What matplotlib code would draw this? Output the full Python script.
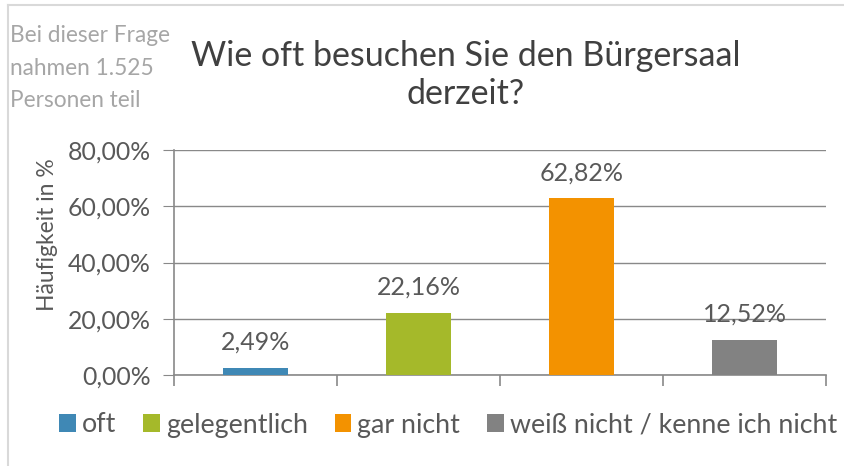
import matplotlib.pyplot as plt
from matplotlib.lines import Line2D
from matplotlib.patches import Patch
from matplotlib.ticker import FuncFormatter

plt.rcParams['font.family'] = ['Lato', 'DejaVu Sans']

categories = ["oft", "gelegentlich", "gar nicht", "weiß nicht / kenne ich nicht"]
values = [2.49, 22.16, 62.82, 12.52]
colors = ["#3F88B5", "#A5B92A", "#F39200", "#828282"]
y_ticks = [0, 20, 40, 60, 80]

W, H = 845, 466
fig = plt.figure(figsize=(W / 100, H / 100), dpi=100)

# chart-area border (only top and left are visible in the crop)
fig.add_artist(Line2D([8 / W, 8 / W], [0, 1 - 5 / H], color="#D9D9D9", lw=1.5))
fig.add_artist(Line2D([8 / W, 1], [1 - 5 / H, 1 - 5 / H], color="#D9D9D9", lw=1.5))

ax = fig.add_axes([174 / W, 91 / H, 652 / W, 225 / H])

x = list(range(len(categories)))
ax.bar(x, values, width=0.4, color=colors, zorder=3)
for xi, v in zip(x, values):
    ax.annotate(f"{v:.2f}%".replace(".", ","), (xi, v), xytext=(0, 13),
                textcoords="offset points", ha="center", va="baseline",
                fontsize=18, color="#595959")

ax.set_xlim(-0.5, len(categories) - 0.5)
ax.set_ylim(0, 80)
ax.set_yticks(y_ticks)
ax.yaxis.set_major_formatter(FuncFormatter(lambda v, p: f"{v:.2f}%".replace(".", ",")))
ax.set_xticks([i - 0.5 for i in range(len(categories) + 1)])
ax.set_xticklabels([])
ax.grid(axis="y", color="#898989", lw=1, zorder=0)

for s in ["top", "right"]:
    ax.spines[s].set_visible(False)
for s in ["left", "bottom"]:
    ax.spines[s].set_color("#898989")
    ax.spines[s].set_linewidth(1.2)
ax.tick_params(axis="y", length=8, color="#898989", labelsize=17.8,
               labelcolor="#595959", pad=9)
ax.tick_params(axis="x", length=8, color="#898989", width=1.2)
fig.text(48 / W, 1 - 235 / H, "Häufigkeit in %", rotation=90,
         ha="center", va="center", fontsize=16.5, color="#595959")

fig.text(466 / W, 1 - 75 / H, "Wie oft besuchen Sie den Bürgersaal\nderzeit?",
         ha="center", va="center", fontsize=24.5, color="#404040",
         linespacing=1.25)
fig.text(10 / W, 1 - 68 / H, "Bei dieser Frage\nnahmen 1.525\nPersonen teil",
         ha="left", va="center", fontsize=16.3, color="#A6A6A6",
         linespacing=1.65)

handles = [Patch(facecolor=c, edgecolor="none") for c in colors]
fig.legend(handles, categories, loc="center", bbox_to_anchor=(448 / W, 1 - 425 / H),
           ncol=4, frameon=False, fontsize=19.3, labelcolor="#595959",
           handlelength=0.63, handleheight=0.63, handletextpad=0.22,
           columnspacing=1.0, borderpad=0)

fig.savefig("out.png", dpi=100)
